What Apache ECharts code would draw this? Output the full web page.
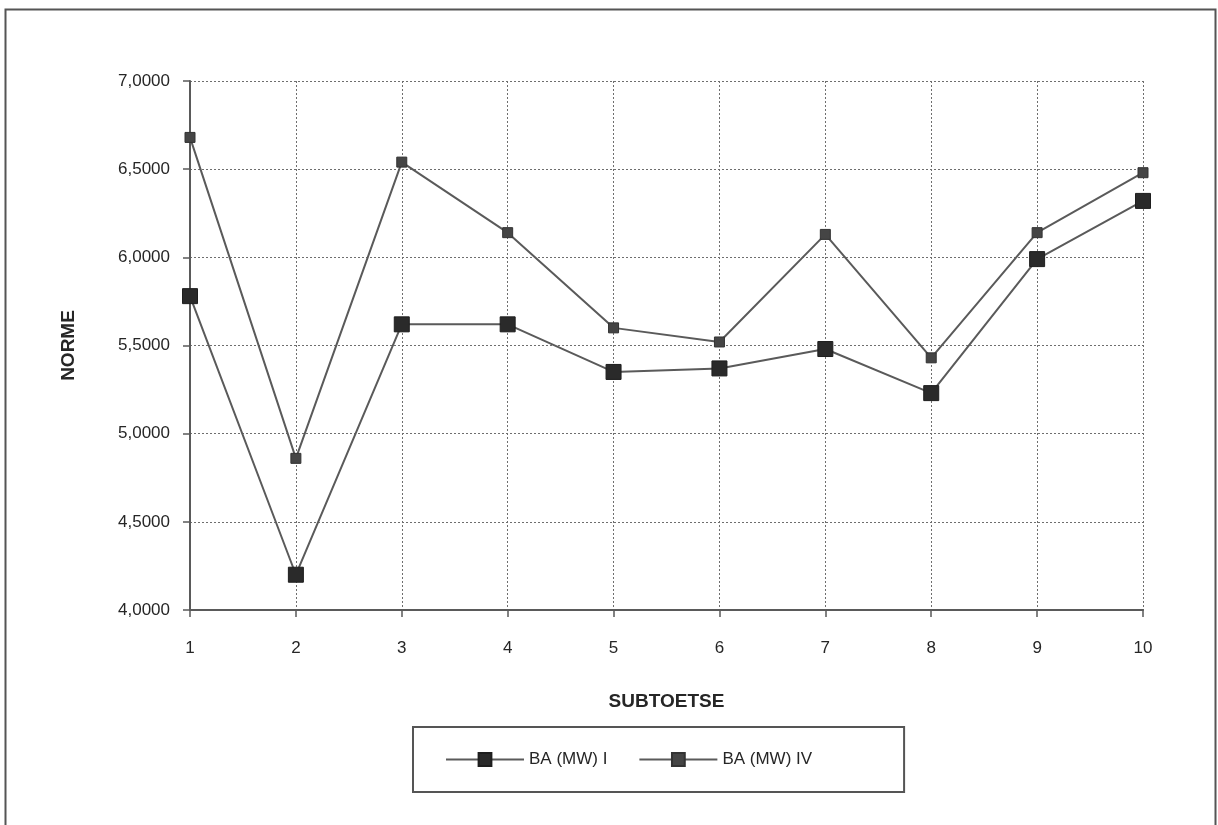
<!DOCTYPE html>
<html>
<head>
<meta charset="utf-8">
<title>BA (MW) normes per subtoets</title>
<script src="https://cdn.jsdelivr.net/npm/echarts@6/dist/echarts.min.js"></script>
<style>
  html, body { margin: 0; padding: 0; background: #ffffff; }
  #chart { width: 1218px; height: 825px; }
</style>
</head>
<body>
<div id="chart"></div>
<script>
// Subtoetse 1..10
const categories = ['1', '2', '3', '4', '5', '6', '7', '8', '9', '10'];

// Norm values per subtest
const seriesNames = ['BA (MW) I', 'BA (MW) IV'];
const normI  = [5.78, 4.20, 5.62, 5.62, 5.35, 5.37, 5.48, 5.23, 5.99, 6.32];
const normIV = [6.68, 4.86, 6.54, 6.14, 5.60, 5.52, 6.13, 5.43, 6.14, 6.48];

// Y axis range
const yMin = 4;
const yMax = 7;
const yStep = 0.5;

const fontFamily = '"Liberation Sans", Arial, sans-serif';
const textColor = '#262626';
const lineColor = '#5a5a5a';

const chart = echarts.init(document.getElementById('chart'), null, { renderer: 'canvas' });

chart.setOption({
  backgroundColor: '#ffffff',
  animation: false,
  graphic: [
    {
      type: 'rect',
      left: 3,
      top: 7,
      shape: { width: 1210, height: 840 },
      style: { fill: 'none', stroke: '#555555', lineWidth: 2 },
      silent: true,
      z: -10
    }
  ],
  grid: {
    left: 190,
    right: 75,
    top: 81,
    bottom: 215,
    containLabel: false
  },
  legend: {
    data: seriesNames,
    left: 413,
    top: 727,
    orient: 'horizontal',
    padding: [24, 92, 24, 32],
    itemWidth: 78,
    itemHeight: 16,
    itemGap: 31,
    borderColor: '#555555',
    borderWidth: 2,
    backgroundColor: '#ffffff',
    textStyle: { fontFamily: fontFamily, fontSize: 17, color: textColor }
  },
  xAxis: {
    type: 'category',
    data: categories,
    boundaryGap: false,
    name: 'SUBTOETSE',
    nameLocation: 'middle',
    nameGap: 82,
    nameTextStyle: { fontFamily: fontFamily, fontSize: 19, fontWeight: 'bold', color: textColor },
    axisLine: { show: true, lineStyle: { color: lineColor, width: 2 } },
    axisTick: { show: true, alignWithLabel: true, length: 7, lineStyle: { color: lineColor, width: 1.5 } },
    axisLabel: { margin: 30, fontFamily: fontFamily, fontSize: 17, color: textColor },
    splitLine: { show: true, lineStyle: { color: '#6e6e6e', type: [2, 2], width: 1 } }
  },
  yAxis: {
    type: 'value',
    min: yMin,
    max: yMax,
    interval: yStep,
    name: 'NORME',
    nameLocation: 'middle',
    nameGap: 112,
    nameRotate: 90,
    nameTextStyle: { fontFamily: fontFamily, fontSize: 19, fontWeight: 'bold', color: textColor },
    axisLine: { show: true, lineStyle: { color: lineColor, width: 2 } },
    axisTick: { show: true, length: 7, lineStyle: { color: lineColor, width: 1.5 } },
    axisLabel: {
      margin: 20,
      fontFamily: fontFamily,
      fontSize: 17,
      color: textColor,
      formatter: function (v) { return v.toFixed(4).replace('.', ','); }
    },
    splitLine: { show: true, lineStyle: { color: '#6e6e6e', type: [2, 2], width: 1 } }
  },
  series: [
    {
      name: seriesNames[0],
      type: 'line',
      data: normI,
      symbol: 'rect',
      symbolSize: 15,
      showAllSymbol: true,
      lineStyle: { color: lineColor, width: 2 },
      itemStyle: { color: '#2a2a2a', borderColor: '#1e1e1e', borderWidth: 1 },
      z: 3
    },
    {
      name: seriesNames[1],
      type: 'line',
      data: normIV,
      symbol: 'rect',
      symbolSize: 10,
      showAllSymbol: true,
      lineStyle: { color: lineColor, width: 2 },
      itemStyle: { color: '#454545', borderColor: '#333333', borderWidth: 1 },
      z: 2
    }
  ]
});
</script>
</body>
</html>
